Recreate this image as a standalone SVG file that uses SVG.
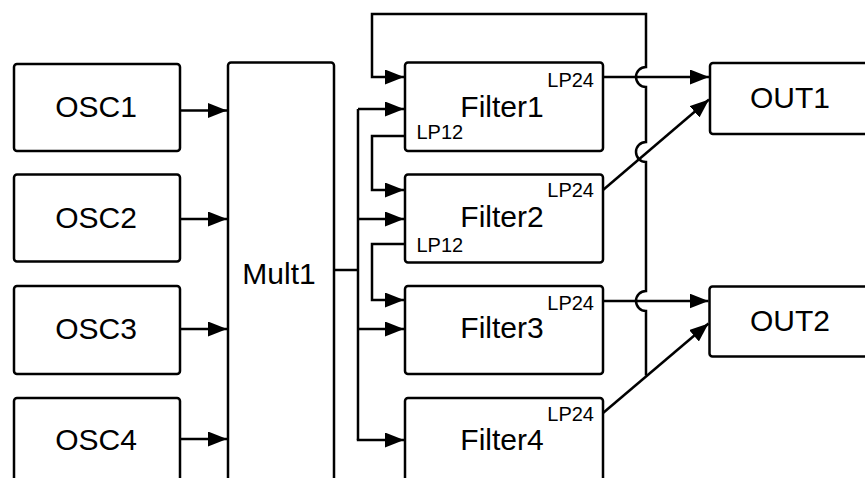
<svg xmlns="http://www.w3.org/2000/svg" width="865" height="478" viewBox="0 0 865 478">
<style>
.box{fill:#fff;stroke:#000;stroke-width:2.5}
.big{font-family:"Liberation Sans",Arial,sans-serif;font-size:30px;fill:#000;text-anchor:middle}
.sm{font-family:"Liberation Sans",Arial,sans-serif;font-size:20px;fill:#000}
.ln{fill:none;stroke:#000;stroke-width:2.5}
.arr{marker-end:url(#ah)}
</style>
<defs>
<marker id="ah" markerUnits="userSpaceOnUse" markerWidth="19" markerHeight="15" refX="19" refY="7.5" orient="auto" viewBox="0 0 19 15">
<path d="M0,0 L19,7.5 L0,15 z" fill="#000"/>
</marker>
</defs>
<rect width="865" height="478" fill="#fff"/>
<g id="osc1"><rect class="box" x="14" y="64" width="166" height="87" rx="3"/><text class="big" x="96" y="117">OSC1</text></g>
<g id="osc2"><rect class="box" x="14" y="174.5" width="166" height="87" rx="3"/><text class="big" x="96" y="228">OSC2</text></g>
<g id="osc3"><rect class="box" x="14" y="286" width="166" height="88" rx="3"/><text class="big" x="96" y="338.5">OSC3</text></g>
<g id="osc4"><rect class="box" x="14" y="398" width="166" height="88" rx="3"/><text class="big" x="96" y="449.5">OSC4</text></g>
<g id="mult1"><rect class="box" x="228" y="62.5" width="106" height="430" rx="3"/><text class="big" x="279" y="284">Mult1</text></g>
<g id="filter1"><rect class="box" x="405" y="62.5" width="198" height="88.5" rx="3"/><text class="big" x="502" y="116.5">Filter1</text><text class="sm" x="594" y="87.3" text-anchor="end">LP24</text><text class="sm" x="416.5" y="139.3">LP12</text></g>
<g id="filter2"><rect class="box" x="405" y="174.5" width="198" height="88" rx="3"/><text class="big" x="502" y="226.7">Filter2</text><text class="sm" x="594" y="196.7" text-anchor="end">LP24</text><text class="sm" x="416.5" y="251.7">LP12</text></g>
<g id="filter3"><rect class="box" x="405" y="286" width="198" height="88" rx="3"/><text class="big" x="502" y="338.3">Filter3</text><text class="sm" x="594" y="310" text-anchor="end">LP24</text></g>
<g id="filter4"><rect class="box" x="405" y="398" width="198" height="88" rx="3"/><text class="big" x="502" y="450">Filter4</text><text class="sm" x="594" y="420.7" text-anchor="end">LP24</text></g>
<g id="out1"><rect class="box" x="710" y="63" width="170" height="71" rx="3"/><text class="big" x="790" y="107.7">OUT1</text></g>
<g id="out2"><rect class="box" x="709.5" y="286.5" width="170" height="70" rx="3"/><text class="big" x="790" y="330.7">OUT2</text></g>
<g id="connectors">
<path class="ln arr" d="M180,110.5 H227"/>
<path class="ln arr" d="M180,219 H227"/>
<path class="ln arr" d="M180,329 H227"/>
<path class="ln arr" d="M180,439 H227"/>
<path class="ln" d="M334,270 H358"/>
<path class="ln" d="M358,109 V440"/>
<path class="ln arr" d="M358,109 H404"/>
<path class="ln arr" d="M358,219 H404"/>
<path class="ln arr" d="M358,329 H404"/>
<path class="ln arr" d="M356.8,440 H404"/>
<path class="ln arr" d="M405,136 H372 V190 H404"/>
<path class="ln arr" d="M405,244 H372 V300 H404"/>
<path class="ln arr" d="M603,77 H709"/>
<path class="ln arr" d="M603,301 H708.5"/>
<path class="ln arr" d="M603,190 L709,99.5"/>
<path class="ln arr" d="M603,413 L708.5,323.5"/>
<path class="ln arr" d="M646,375.5 V311 A10,10 0 0 1 646,291 V162 A10,10 0 0 1 646,142 V87 A10,10 0 0 1 646,67 V14 H372 V77 H404"/>
</g>
</svg>
